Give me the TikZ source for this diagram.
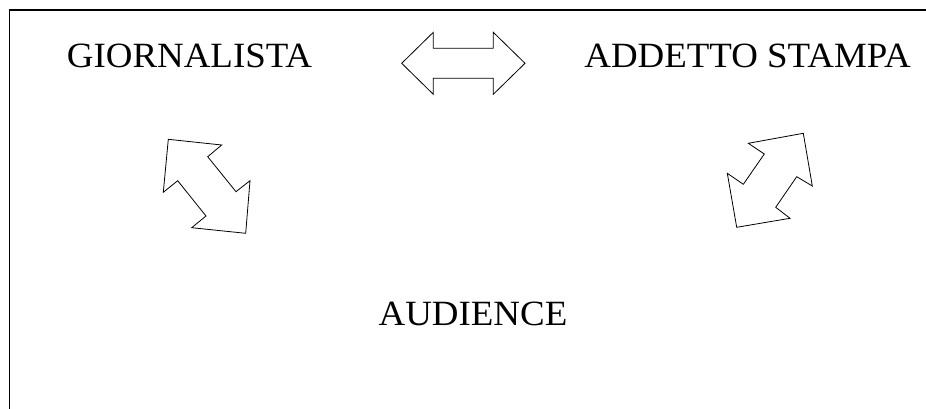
\documentclass[tikz,border=0pt]{standalone}
\usepackage{fontspec}
\setmainfont{Liberation Serif}
\begin{document}
\begin{tikzpicture}[x=1pt,y=-1pt,
  lbl/.style={anchor=base,inner sep=0pt,font=\fontsize{35.5}{42}\selectfont},
  arr/.style={draw=black,line width=0.8pt,line join=miter}]
\useasboundingbox (0,0) rectangle (926,409);
\draw[line width=1.8pt] (9.5,409) coordinate (fb) -- (9.5,10) coordinate (fc) -- (926,10) coordinate (fr);
\node[lbl] (g) at (189.5,68) {\scalebox{1.04}[1]{GIORNALISTA}};
\node[lbl] (s) at (747.5,68) {\scalebox{1.04}[1]{ADDETTO STAMPA}};
\node[lbl] (a) at (473,325) {\scalebox{1.04}[1]{AUDIENCE}};
% horizontal double arrow
\draw[arr] (401.7,63.3) -- (433.3,32.3) -- (433.3,48.3) -- (493.3,48.3) -- (493.3,32.3)
  -- (525,63.3) -- (493.3,94.3) -- (493.3,78.3) -- (433.3,78.3) -- (433.3,94.3) -- cycle;
% left diagonal arrow
\draw[arr] (168.3,139.3) -- (221.7,145) -- (207.7,156.7) -- (236,191.7) -- (250,180.7)
  -- (245.7,233.3) -- (191.7,227.7) -- (206,216) -- (177.7,180.7) -- (163.3,192.3) -- cycle;
% right diagonal arrow
\draw[arr] (803.3,133.3) -- (812.3,186) -- (796.7,176.7) -- (775.7,207.3) -- (790,218.3)
  -- (736.7,227.3) -- (727.3,173.3) -- (743.3,184.3) -- (764.3,154) -- (748.3,143.3) -- cycle;
\end{tikzpicture}
\end{document}
